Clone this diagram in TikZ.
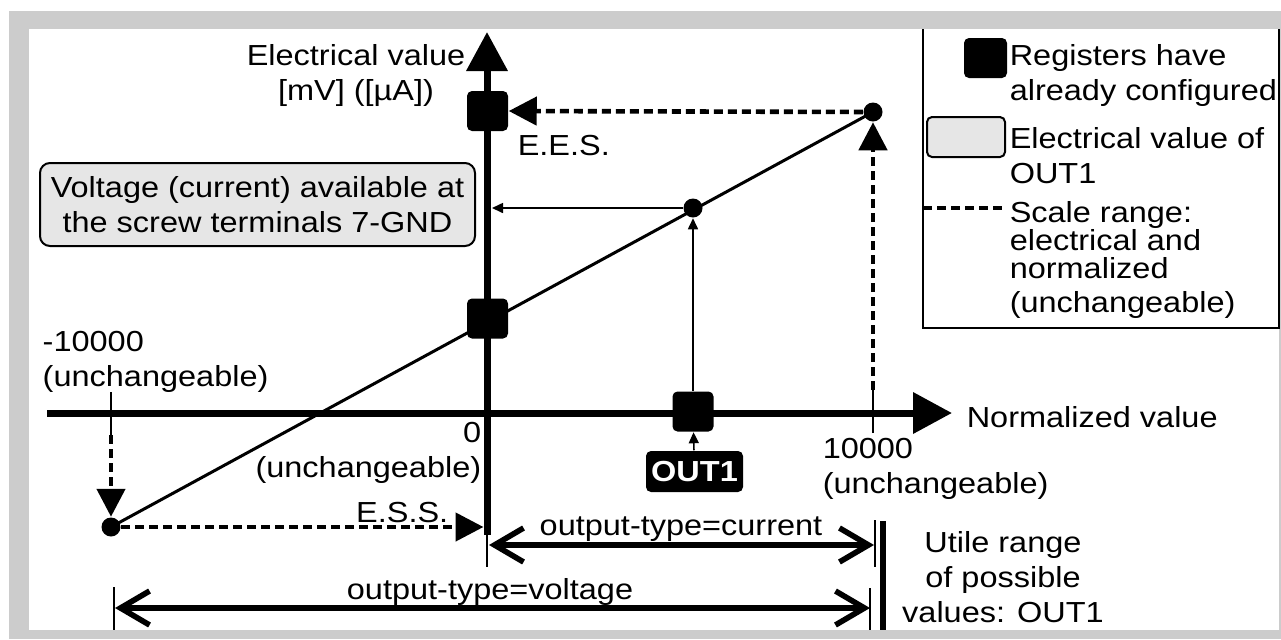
\documentclass[tikz,border=0pt]{standalone}
\usepackage{fontspec}
\setmainfont{Liberation Sans}[FakeStretch=1.12]
\usetikzlibrary{arrows.meta}

\definecolor{marco}{RGB}{204,204,204}
\definecolor{relleno}{RGB}{230,230,230}

\begin{document}
\begin{tikzpicture}[x=0.5pt, y=-0.5pt, line width=0.75pt,
  txt/.style={inner sep=0pt, font=\fontsize{14.5}{17.5}\selectfont},
  reg/.style={fill=black, rounded corners=2.5pt, minimum width=20.5pt, minimum height=20pt, inner sep=0pt},
  punto/.style={circle, fill=black, minimum size=9.5pt, inner sep=0pt},
  eje/.style={line width=3.5pt, -{Triangle[length=19.5pt, width=20pt]}},
  escala/.style={line width=2.3pt, dash pattern=on 4.5pt off 2.5pt, -{Triangle[length=14pt, width=14pt]}},
  fina/.style={line width=0.8pt, -{Triangle[length=5.5pt, width=5pt]}},
  rango/.style={line width=2.8pt, {Straight Barb[length=14.5pt, width=17pt]}-{Straight Barb[length=14.5pt, width=17pt]}}]
  \useasboundingbox (0,0) rectangle (1281,639);
  % marco gris
  \fill[white] (0,0) rectangle (1281,639);
  \fill[marco] (9,11) rectangle (1281,639);
  \fill[white] (29,29) rectangle (1279,630);

  % ejes
  \coordinate (O) at (487,413);
  \coordinate (Yb) at (487,535);
  \coordinate (Yt) at (487,32);
  \coordinate (Xl) at (47,413);
  \coordinate (Xr) at (952,413);
  \draw[eje] (Yb) -- (Yt);
  \draw[eje] (Xl) -- (Xr);
  \node[txt, anchor=base, align=center] (ylbl) at (356,100) {Electrical value\\{[mV] ([µA])}};
  \node[txt, anchor=base west] (xlbl) at (966,427) {Normalized value};

  % recta y puntos
  \node[punto] (pmin) at (111,527) {};
  \node[punto] (pmax) at (873,112) {};
  \node[punto] (pout) at (693,208) {};
  \draw[line width=1.5pt] (pmin.center) -- (pmax.center);

  % registros
  \node[reg] (regmax) at (487.5,111) {};
  \node[reg] (regmin) at (487.5,318.5) {};
  \node[reg] (regout) at (693,411.5) {};
  \node[fill=black, text=white, rounded corners=2.5pt, minimum width=48.5pt, minimum height=20.5pt,
        inner sep=0pt, font=\fontsize{14.5}{17}\selectfont\bfseries] (outlbl) at (694.5,471.5) {OUT1};

  % escala (discontinuo)
  \coordinate (m10a) at (873,433);
  \coordinate (m10b) at (873,390);
  \coordinate (mm10a) at (111,392);
  \coordinate (mm10b) at (111,435);
  \draw (m10a) -- (m10b);
  \draw (mm10a) -- (mm10b);
  \draw[escala] (m10b) -- (pmax.south);
  \draw[escala] (mm10b) -- (pmin.north);
  \draw[escala] (pmax) -- (regmax.east);
  \draw[escala] (pmin) -- ([xshift=-1.75pt]pmin -| O);
  \node[txt, anchor=base west] (ees) at (517,155) {E.E.S.};
  \node[txt, anchor=base east] (ess) at (449,522) {E.S.S.};

  % valor de OUT1
  \draw[fina] (outlbl) -- (regout);
  \draw[fina] (regout) -- (pout);
  \draw[fina] (pout) -- ([xshift=2.5pt]pout -| O);
  \node[txt, draw, line width=1pt, fill=relleno, rounded corners=5pt, minimum width=217.5pt,
        minimum height=41.5pt, align=center] (caja) at (257.5,204.5)
        {Voltage (current) available at\\the screw terminals 7-GND};

  % limites normalizados
  \node[txt, anchor=base west, align=left] (lmin) at (42,386) {-10000\\(unchangeable)};
  \node[txt, anchor=base east, align=right] (lcero) at (482,477) {0\\(unchangeable)};
  \node[txt, anchor=base west, align=left] (lmax) at (822,493) {10000\\(unchangeable)};

  % rangos utiles
  \coordinate (ic) at (489,545);
  \coordinate (fc) at (874,545);
  \coordinate (iv) at (115,608);
  \coordinate (fv) at (870,608);
  \draw (487,535) -- (487,567);
  \draw (875,520) -- (875,567);
  \draw (114,587) -- (114,630);
  \draw (870,588) -- (870,630);
  \draw[line width=3pt] (883,521) -- (883,630);
  \draw[rango] (ic) -- (fc);
  \draw[rango] (iv) -- (fv);
  \node[txt, anchor=base] (tcur) at (681,535) {output-type=current};
  \node[txt, anchor=base] (tvol) at (490,599) {output-type=voltage};
  \node[txt, anchor=base, align=center] (utile) at (1003,622) {Utile range\\of possible\\values: OUT1};

  % leyenda
  \draw (923,29) |- (1279,328) -- (1279,29);
  \node[reg, minimum width=21.5pt] (lreg) at (985.5,58) {};
  \node[txt, anchor=base west, align=left] (treg) at (1009,100) {Registers have\\already configured};
  \node[draw, line width=1pt, fill=relleno, rounded corners=2.5pt, minimum width=39pt,
        minimum height=20pt, inner sep=0pt] (lcaja) at (966,137) {};
  \node[txt, anchor=base west, align=left] (tcaja) at (1009,183) {Electrical value of\\OUT1};
  \coordinate (ld1) at (923,208);
  \coordinate (ld2) at (1007,208);
  \draw[line width=2.3pt, dash pattern=on 4.5pt off 2.5pt] (ld1) -- (ld2);
  \node[txt, anchor=base west, align=left, font=\fontsize{14.5}{14}\selectfont] (tesc) at (1009,312)
        {Scale range:\\electrical and\\normalized\\[3pt](unchangeable)};
\end{tikzpicture}
\end{document}
